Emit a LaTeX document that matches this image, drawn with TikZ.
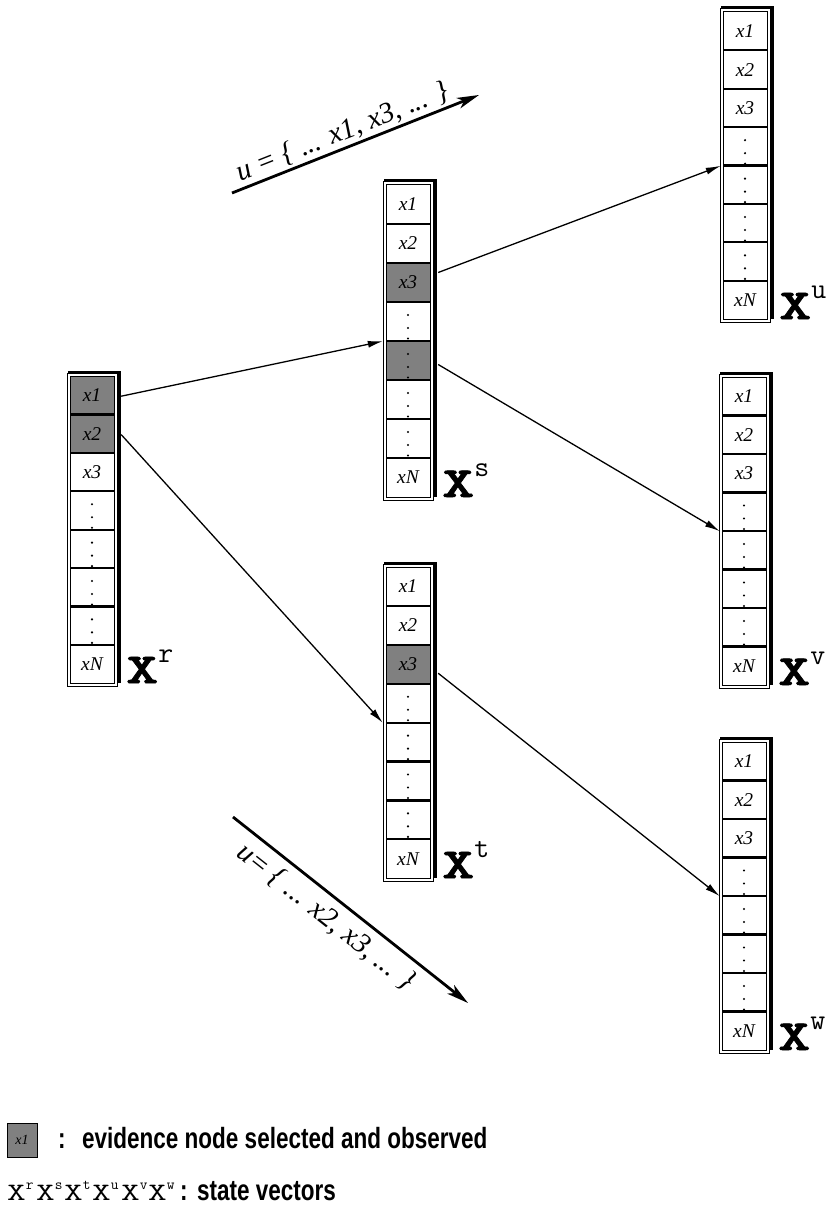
\documentclass[tikz,border=0pt]{standalone}
\usepackage{fontspec}
\usepackage{graphicx}
\setmainfont{Liberation Serif}
\newfontfamily\sansf{Liberation Sans}
\newfontfamily\heavytt[FakeBold=1.3]{lmmonolt10-bold.otf}
\usetikzlibrary{arrows.meta,calc}
\definecolor{evgray}{RGB}{128,128,128}
\tikzset{
 cell/.style={inner sep=0pt, minimum width=44pt, font=\fontsize{19.5}{20}\selectfont\itshape},
 conn/.style={line width=1.3pt, -{Latex[length=15pt,width=7pt]}},
 bigarrow/.style={line width=2.8pt, -{Stealth[length=22pt,width=11pt,inset=6pt]}},
 ulabel/.style={font=\fontsize{29}{31}\selectfont\itshape, inner sep=2pt},
 plain/.style={anchor=base west, inner sep=0pt},
}
\newcommand\bigX[1]{\scalebox{1.42}[1]{\fontsize{43}{43}\selectfont\heavytt X}\raisebox{21pt}{\fontsize{29}{29}\selectfont\ttfamily #1}}
\newcommand\smallX[1]{\scalebox{1.45}[1]{\fontsize{25}{25}\selectfont\ttfamily X}\raisebox{11pt}{\fontsize{15}{15}\selectfont\ttfamily #1}}
\newcommand\legtext[1]{\scalebox{1}[1.3]{\fontsize{22.5}{24}\selectfont\sansf\bfseries #1}}
\newcommand\statevec[6]{%
 \pgfmathsetmacro\svH{8*#4}
 \begin{scope}[shift={(#2,#3)}]
  \fill (-2.5,-5.5) rectangle (50.5,\svH);
  \draw[line width=1pt, fill=white] (-3,-3) rectangle (47,\svH+3);
  \foreach \j in {#6}{\ifnum\j>0 \fill[evgray] (0,{(\j-1)*#4}) rectangle (44,{\j*#4});\fi}
  \draw[line width=1pt] (0,0) rectangle (44,\svH);
  \foreach \i in {1,...,7}{\draw[line width=2.2pt] (0,{\i*#4}) -- (44,{\i*#4});}
  \foreach \i/\t in {1/x1,2/x2,3/x3,4/,5/,6/,7/,8/xN}{
    \node[cell, minimum height=#4pt] (#1\i) at (22,{(\i-0.5)*#4}) {\t};}
  \foreach \i in {4,...,7}{\foreach \d in {13,26,36.5}{\fill (22,{(\i-1)*#4+\d}) circle (1.2);}}
  \node[plain] (#1lab) at (56,\svH) {\bigX{#5}};
 \end{scope}}
\begin{document}
\begin{tikzpicture}[x=1pt,y=-1pt]
\useasboundingbox (0,0) rectangle (830,1206);
\statevec{r}{70}{376}{38.4}{r}{1,2}
\statevec{s}{386}{185}{39}{s}{3,5}
\statevec{t}{386}{567}{38.9}{t}{3}
\statevec{u}{723}{12}{38.4}{u}{0}
\statevec{v}{722}{377}{38.5}{v}{0}
\statevec{w}{722}{742}{38.5}{w}{0}
% connectors
\draw[conn] ($(r1.east)+(7,1)$) -- ($(s4.south west)+(-3,0)$);
\draw[conn] ($(r2.east)+(7,1)$) -- ($(t4.south west)+(-3,0)$);
\draw[conn] ($(s3.east)+(8,-10)$) -- ($(u4.south west)+(-2,0)$);
\draw[conn] ($(s5.east)+(8,4)$) -- ($(v4.south west)+(-2,0)$);
\draw[conn] ($(t3.east)+(8,9)$) -- ($(w4.south west)+(-2,0)$);
% sequence arrows
\coordinate (ua) at (232,193);
\coordinate (ub) at (479,95);
\draw[bigarrow] (ua) -- node[ulabel, sloped, above, pos=0.47] (utop) {u = \{ ... x1, x3, ... \}} (ub);
\coordinate (la) at (233,817);
\coordinate (lb) at (468,1003);
\draw[bigarrow] (la) -- node[ulabel, sloped, below, pos=0.45, inner sep=7pt] (ubot) {u= \{ ... x2, x3, ... \}} (lb);
% legend
\node[draw, line width=0.8pt, fill=evgray, minimum width=30pt, minimum height=34pt, inner sep=0pt, font=\fontsize{14}{14}\selectfont\itshape] (legbox) at (22,1140) {x1};
\node[plain] (legcolon1) at (58,1148) {\legtext{:}};
\node[plain] (legtext1) at (82,1148) {\legtext{evidence node selected and observed}};
\foreach \k/\xx in {r/7,s/36,t/64,u/92,v/121,w/148}{
  \node[plain] (leg\k) at (\xx,1200) {\smallX{\k}};}
\node[plain] (legcolon2) at (180,1200) {\legtext{:}};
\node[plain] (legtext2) at (197,1200) {\legtext{state vectors}};
\end{tikzpicture}
\end{document}
